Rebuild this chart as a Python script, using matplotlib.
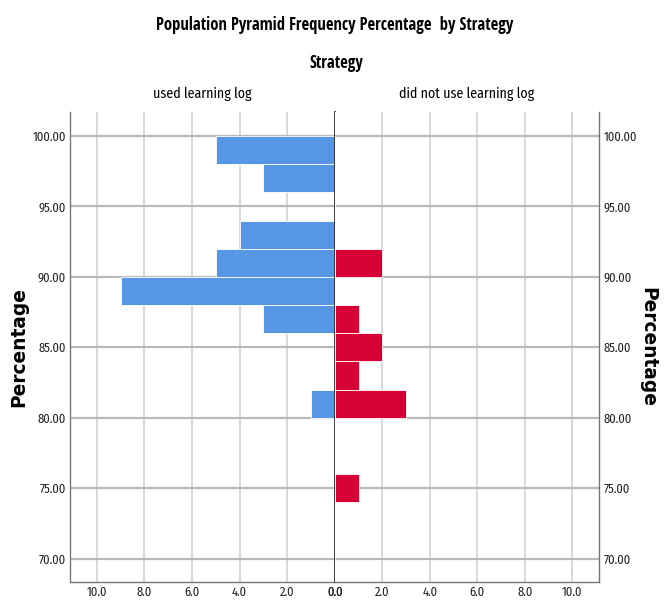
import matplotlib.pyplot as plt
import numpy as np

# bin centres of the percentage score (bins are 2 wide)
bins = [99, 97, 95, 93, 91, 89, 87, 85, 83, 81, 79, 77, 75, 73, 71]
used_log = [5, 3, 0, 4, 5, 9, 3, 0, 0, 1, 0, 0, 0, 0, 0]
no_log = [0, 0, 0, 0, 2, 0, 1, 2, 1, 3, 0, 0, 1, 0, 0]

group_names = ['used learning log', 'did not use learning log']
y_ticks = [70, 75, 80, 85, 90, 95, 100]
x_ticks = [0, 2, 4, 6, 8, 10]

blue = '#5597e4'
red = '#d60034'
cond_bold = ['Open Sans Condensed', 'Barlow Condensed', 'DejaVu Sans']
cond = ['Fira Sans Condensed', 'Asap Condensed', 'Archivo Narrow', 'DejaVu Sans']

fig = plt.figure(figsize=(6.66, 6.03), dpi=100)
ax_l = fig.add_axes([0.1051, 0.0348, 0.3975, 0.7795])
ax_r = fig.add_axes([0.5026, 0.0348, 0.3973, 0.7795])

for ax, vals, col in [(ax_l, used_log, blue), (ax_r, no_log, red)]:
    ax.set_xlim(0, 11.13)
    ax.set_ylim(68.35, 101.7)
    for x in x_ticks[1:]:
        ax.axvline(x, color='#d2d2d2', lw=1.2, zorder=0)
    for y in y_ticks:
        ax.axhline(y, color='#b9b9b9', lw=1.6, zorder=0)
    ax.barh(bins, vals, height=2, color=col, edgecolor='#ffffff', lw=0.6, zorder=2)
    ax.set_xticks(x_ticks)
    ax.set_xticklabels(['%.1f' % v for v in x_ticks], family=cond, fontsize=9)
    ax.set_yticks(y_ticks)
    ax.set_yticklabels(['%.2f' % v for v in y_ticks], family=cond, fontsize=9)
    ax.tick_params(length=0, pad=3, colors='#222222')
    ax.spines['top'].set_visible(False)
    for s in ax.spines.values():
        s.set_color('#777777')
        s.set_linewidth(1.0)

ax_l.invert_xaxis()
ax_l.spines['right'].set_color('#333333')
ax_l.spines['right'].set_linewidth(1.3)
ax_l.spines['right'].set_zorder(5)
ax_r.spines['left'].set_visible(False)
ax_r.yaxis.tick_right()

ax_l.set_title(group_names[0], family=cond, fontsize=10, pad=10)
ax_r.set_title(group_names[1], family=cond, fontsize=10, pad=10)

fig.text(0.503, 0.9585, 'Population Pyramid Frequency Percentage  by Strategy',
         ha='center', va='center', family=cond_bold, fontsize=12, weight='bold')
fig.text(0.505, 0.896, 'Strategy', ha='center', va='center',
         family=cond_bold, fontsize=12, weight='bold')

fig.text(0.028, 0.424, 'Percentage', rotation=90, ha='center', va='center',
         fontsize=13.4, weight='bold')
fig.text(0.973, 0.424, 'Percentage', rotation=-90, ha='center', va='center',
         fontsize=13.4, weight='bold')

plt.savefig('out.png', dpi=100)
